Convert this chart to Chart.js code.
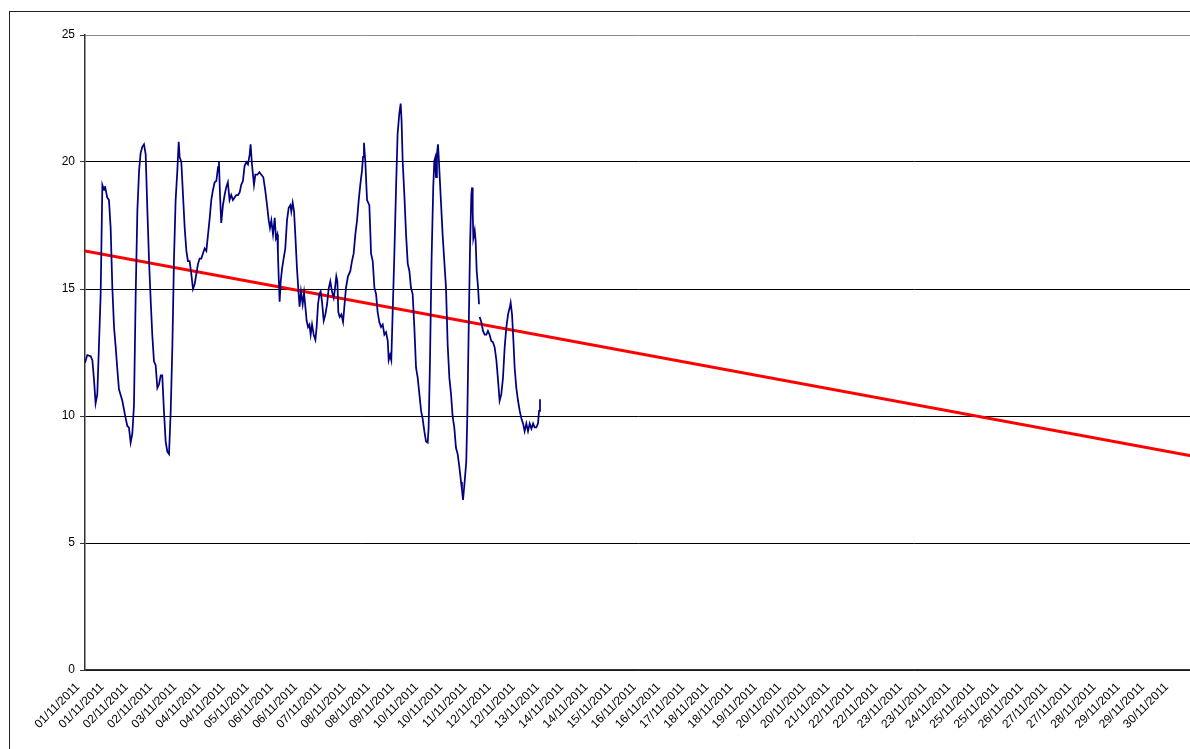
<!DOCTYPE html>
<html><head><meta charset="utf-8">
<script src="https://cdn.jsdelivr.net/npm/chart.js@4"></script>
<style>
html,body{margin:0;padding:0;background:#fff;overflow:hidden;width:1190px;height:749px}
#wrap{position:absolute;left:0;top:0;width:1200px;height:780px}
</style></head><body>
<div id="wrap"><canvas id="c" width="1200" height="780"></canvas></div>
<script>
// Category labels shown under the x axis (one every 15.75 h of the 15-minute series)
const tickLabels = ["01/11/2011","01/11/2011","02/11/2011","02/11/2011","03/11/2011","04/11/2011","04/11/2011","05/11/2011","06/11/2011","06/11/2011","07/11/2011","08/11/2011","08/11/2011","09/11/2011","10/11/2011","10/11/2011","11/11/2011","12/11/2011","12/11/2011","13/11/2011","14/11/2011","14/11/2011","15/11/2011","16/11/2011","16/11/2011","17/11/2011","18/11/2011","18/11/2011","19/11/2011","20/11/2011","20/11/2011","21/11/2011","22/11/2011","22/11/2011","23/11/2011","23/11/2011","24/11/2011","25/11/2011","25/11/2011","26/11/2011","27/11/2011","27/11/2011","28/11/2011","29/11/2011","29/11/2011","30/11/2011"];
const labelStepHours = 15.75;
const monthHours = 720;
const yTicks = [0, 5, 10, 15, 20, 25];

// Measured series: hours since 01/11/2011 00:00, temperature
const sampleHours = [0,1.5,3.7,4.8,5.9,6.9,8.0,9.1,10.2,11.3,12.4,13.0,14.5,15.6,16.7,17.8,18.9,20.0,21.1,22.1,24.3,26.5,27.6,28.6,29.7,30.8,31.9,33.0,34.1,35.2,36.2,37.3,38.4,39.5,40.6,41.7,42.8,43.8,44.9,46.0,47.1,48.2,49.3,50.3,51.4,52.5,53.6,54.7,55.8,56.9,57.9,59.0,60.1,61.0,61.6,62.7,63.8,64.9,66.0,67.0,68.1,69.2,70.3,71.4,72.5,73.5,74.6,75.7,76.8,77.9,79.0,80.1,81.2,82.2,83.3,84.4,85.5,86.6,87.2,87.9,88.7,89.8,90.9,91.9,93.0,94.1,95.2,96.3,97.4,98.5,99.6,100.7,101.7,102.8,103.9,105.0,106.1,107.2,107.8,108.7,110.0,110.9,112.2,113.5,114.8,116.1,117.4,118.7,119.6,120.4,121.3,122.4,123.5,124.3,125.2,125.6,126.1,126.7,127.4,128.3,129.3,130.4,131.5,132.6,133.7,134.3,135.2,136.1,136.9,138.0,139.1,139.7,140.6,141.7,142.6,143.5,144.3,145.2,146.1,146.9,147.8,148.9,150.0,150.8,151.7,152.6,153.4,154.3,155.4,156.5,157.6,158.6,159.7,160.8,161.9,162.5,163.6,164.3,164.9,165.8,166.9,168.0,168.8,169.9,171.2,172.7,173.8,174.9,176.0,177.1,178.2,179.2,180.3,181.0,181.6,182.5,183.6,185.1,185.8,186.2,187.3,188.4,189.5,190.5,191.6,192.7,193.8,194.9,196.0,197.1,197.7,198.6,199.4,200.3,201.4,202.5,203.5,204.6,205.5,206.1,206.8,207.9,209.0,210.1,211.2,212.2,213.3,214.4,215.5,216.6,217.7,218.8,219.8,220.9,222.0,223.1,223.7,224.6,225.6,226.7,227.4,228.0,228.5,229.1,229.8,230.4,231.5,232.8,233.9,235.0,236.1,237.2,238.3,239.3,240.4,241.5,242.6,243.7,244.8,245.4,246.1,247.2,248.2,248.9,249.8,250.7,251.5,252.0,252.4,252.8,253.7,254.3,255.0,255.9,256.5,256.7,256.9,258.0,259.1,260.2,261.3,262.3,263.4,264.5,265.6,266.7,267.8,268.9,269.9,271.0,272.1,273.2,274.3,275.4,276.5,277.1,278.0,278.9,279.7,280.8,281.9,283.0,284.1,285.2,286.2,287.3,288.4,289.5,290.6,291.7,292.7,293.8,294.9,295.6,296.2];
const temperatures = [12.1,12.4,12.35,12.2,11.4,10.5,10.85,12.8,14.8,19.1,18.9,19.05,18.6,18.5,17.4,15.05,13.5,12.7,11.8,11.05,10.6,9.9,9.6,9.55,8.95,9.3,10.45,14.8,18.1,19.65,20.35,20.6,20.7,20.3,18.1,16.1,14.5,13.2,12.15,12.0,11.1,11.25,11.6,11.6,10.2,9.0,8.6,8.5,10.2,12.8,16.1,18.5,19.65,20.8,20.2,20.0,18.7,17.4,16.5,16.1,16.1,15.6,15.0,15.2,15.6,15.97,16.2,16.2,16.4,16.6,16.5,17.15,17.8,18.5,18.9,19.2,19.25,19.8,20.0,18.7,17.6,18.3,18.7,19.0,19.2,18.5,18.7,18.5,18.6,18.7,18.7,18.8,19.1,19.25,19.85,20.0,19.9,20.3,20.7,19.9,19.1,19.5,19.5,19.6,19.5,19.4,18.85,18.2,17.7,17.4,17.7,17.15,17.8,17.0,17.15,16.4,15.45,14.5,15.3,15.8,16.2,16.6,17.7,18.2,18.3,18.05,18.4,18.05,17.15,15.8,14.8,14.3,14.9,14.4,14.85,14.27,13.75,13.5,13.6,13.2,13.6,13.2,13.0,13.5,14.4,14.8,14.9,14.5,13.75,14.0,14.4,15.0,15.3,14.9,14.65,14.9,15.5,15.3,14.1,13.9,14.0,13.7,14.27,15.05,15.5,15.7,16.1,16.4,17.15,17.7,18.5,19.1,19.65,20.2,20.76,20.0,18.5,18.3,17.15,16.4,16.1,15.05,14.8,14.1,13.7,13.5,13.6,13.2,13.3,12.95,12.2,12.4,12.2,14.1,16.4,19.0,21.1,21.9,22.3,21.6,20.04,18.7,17.15,16.0,15.7,15.05,14.8,13.5,11.9,11.5,10.85,10.2,9.9,9.4,9.0,8.95,9.55,12.2,16.1,19.0,20.04,20.17,19.4,20.3,20.7,20.04,18.7,17.15,16.1,15.05,12.8,11.5,10.85,10.0,9.55,8.75,8.5,8.0,7.4,7.1,6.7,7.45,8.2,10.05,13.5,16.8,18.7,19.0,18.05,17.0,17.3,16.9,15.7,15.05,14.4,null,13.9,13.7,13.35,13.2,13.2,13.35,13.2,12.95,12.9,12.7,12.2,11.4,10.6,10.85,11.5,12.7,13.5,14.0,14.27,14.46,14.0,12.95,11.9,11.1,10.6,10.2,9.9,9.7,9.4,9.7,9.4,9.7,9.5,9.7,9.55,9.55,9.7,10.2,10.66];

// Linear trend line (start and end of month)
const trendHours = [0, 720];
const trendValues = [16.5, 8.43];

const framePlugin = {
  id: 'frame',
  beforeDraw(chart) {
    const c = chart.ctx;
    c.save();
    c.fillStyle = '#fff';
    c.fillRect(0, 0, chart.width, chart.height);
    c.strokeStyle = '#222';
    c.lineWidth = 1;
    c.strokeRect(9.5, 11.5, chart.width + 20, chart.height + 20);
    c.restore();
  }
};

const font = { family: "'Liberation Sans', Arial, sans-serif", size: 12 };

new Chart(document.getElementById('c'), {
  type: 'line',
  data: {
    datasets: [
      {
        data: sampleHours.map((h, i) => ({ x: h, y: temperatures[i] })),
        borderColor: '#000080',
        borderWidth: 1.75,
        pointRadius: 0,
        tension: 0,
        spanGaps: false
      },
      {
        data: trendHours.map((h, i) => ({ x: h, y: trendValues[i] })),
        borderColor: '#ff0000',
        borderWidth: 3,
        pointRadius: 0,
        tension: 0
      }
    ]
  },
  options: {
    responsive: false,
    animation: false,
    devicePixelRatio: 1,
    layout: { padding: { top: 35, left: 0, right: 9, bottom: 0 } },
    plugins: { legend: { display: false }, tooltip: { enabled: false } },
    scales: {
      x: {
        type: 'linear',
        min: 0,
        max: monthHours,
        afterBuildTicks: s => { s.ticks = tickLabels.map((_, i) => ({ value: i * labelStepHours })); },
        afterFit: s => { s.height = 110; },
        ticks: {
          autoSkip: false, minRotation: 45, maxRotation: 45,
          color: '#000', font: font, padding: 6, labelOffset: -7,
          callback: (v, i) => tickLabels[i]
        },
        grid: { drawOnChartArea: false, tickLength: 4, tickColor: 'rgba(0,0,0,0)' },
        border: { color: '#333', width: 1.5 }
      },
      y: {
        min: 0,
        max: 25,
        afterBuildTicks: s => { s.ticks = yTicks.map(v => ({ value: v })); },
        afterFit: s => { s.width = 85; },
        ticks: { color: '#000', font: font, padding: 5 },
        grid: {
          color: ctx => (ctx.tick && ctx.tick.value === 25) ? '#8a8a8a' : '#000',
          lineWidth: 1, tickLength: 5, tickColor: '#333'
        },
        border: { color: '#333', width: 1.5 }
      }
    }
  },
  plugins: [framePlugin]
});
</script>
</body></html>
